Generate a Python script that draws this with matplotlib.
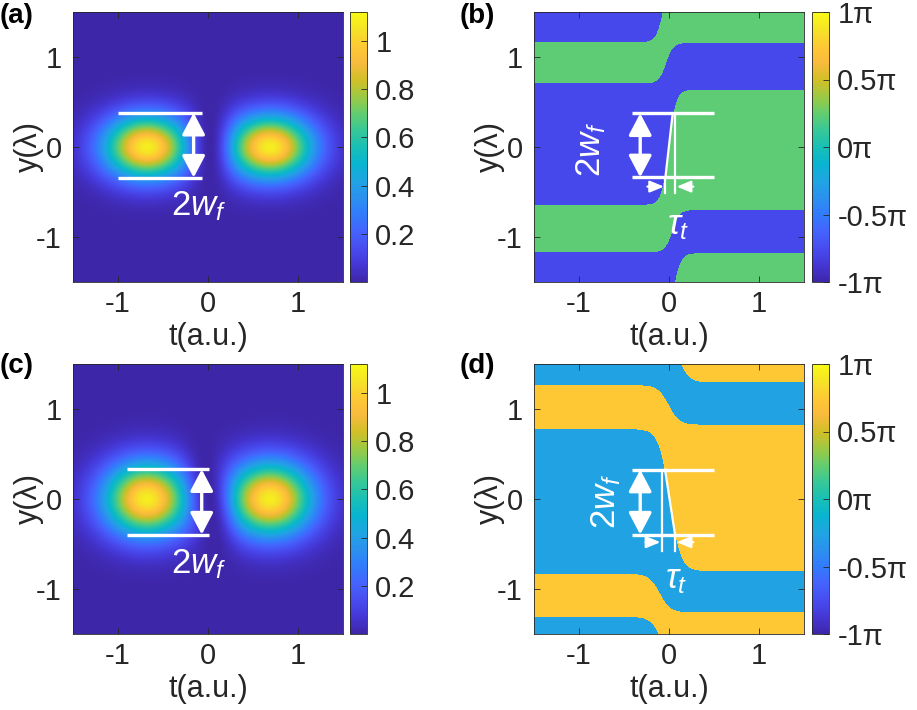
import numpy as np
import matplotlib
matplotlib.use("Agg")
import matplotlib.pyplot as plt
from matplotlib.colors import LinearSegmentedColormap
from matplotlib.patches import ArrowStyle

plt.rcParams["font.family"] = ["Liberation Sans", "DejaVu Sans"]
plt.rcParams["axes.unicode_minus"] = False
plt.rcParams["mathtext.fontset"] = "custom"
plt.rcParams["mathtext.rm"] = "Liberation Sans"
plt.rcParams["mathtext.it"] = "Liberation Sans:italic"

# MATLAB parula (every 4th entry of the 64-colour map)
parula_rgb = [
    (0.2422, 0.1504, 0.6603), (0.2706, 0.2147, 0.8364), (0.2813, 0.3006, 0.9414),
    (0.2699, 0.3892, 0.9906), (0.1963, 0.4847, 0.9892), (0.1687, 0.5703, 0.9359),
    (0.1248, 0.6459, 0.8883), (0.0297, 0.7082, 0.8163), (0.0964, 0.7500, 0.7120),
    (0.2161, 0.7843, 0.5923), (0.3909, 0.8029, 0.4354), (0.6174, 0.7876, 0.2612),
    (0.8203, 0.7498, 0.1535), (0.9728, 0.7298, 0.2394), (0.9952, 0.7893, 0.2028),
    (0.9610, 0.8890, 0.1537), (0.9769, 0.9839, 0.0805),
]
parula = LinearSegmentedColormap.from_list("parula", parula_rgb)

# ---- intensity panels (a) and (c): two lobes ----
spot_t = [-0.68, 0.69]
spot_peak = 1.08
spot_sig_t = 0.34
spot_sig_y_a = 0.25
spot_sig_y_c = 0.29
gap_tilt_a = 0.0
gap_tilt_c = -0.10
intensity_max = 1.12
intensity_ticks = [0.2, 0.4, 0.6, 0.8, 1.0]

# ---- phase panels (b) and (d): band boundaries (y) left / right of t=0 ----
b_left = [1.17, 0.71, -0.64, -1.17, -1.90]
b_right = [1.90, 1.16, 0.64, -0.70, -1.18]
b_t0 = [-0.06, -0.03, 0.00, 0.04, 0.06]
b_levels = [-0.77, 0.23]      # phase / pi, top band first
d_left = [1.90, 1.27, 0.78, -0.83, -1.31]
d_right = [1.30, 0.83, -0.80, -1.26, -1.90]
d_t0 = [0.10, 0.00, 0.01, -0.10, -0.07]
d_levels = [0.74, -0.26]
phase_ticks = [-1, -0.5, 0, 0.5, 1]
phase_labels = ["-1\u03c0", "-0.5\u03c0", "0\u03c0", "0.5\u03c0", "1\u03c0"]

# ---- annotations ----
wf_a = {"y": [0.38, -0.34], "t": [-1.0, -0.07], "arrow": -0.16, "text": (-0.10, -0.66)}
wf_c = {"y": [0.33, -0.395], "t": [-0.9, 0.01], "arrow": -0.07, "text": (-0.10, -0.72)}
wf_b = {"y": [0.374, -0.337], "t": [-0.414, 0.5], "arrow": -0.32, "text": (-0.86, -0.03)}
wf_d = {"y": [0.326, -0.395], "t": [-0.414, 0.5], "arrow": -0.32, "text": (-0.70, -0.03)}
tau_b = {"vert": 0.067, "slant": (0.041, -0.040), "tick_end": -0.515, "arr_y": -0.44,
         "arr_l": (-0.24, -0.055), "arr_r": (0.27, 0.085), "text": (0.10, -0.87)}
tau_d = {"vert": -0.081, "slant": (-0.044, 0.067), "tick_end": -0.574, "arr_y": -0.48,
         "arr_l": (-0.26, -0.095), "arr_r": (0.27, 0.085), "text": (0.08, -0.89)}

n = 540
tt = np.linspace(-1.5, 1.5, n)
T, Y = np.meshgrid(tt, tt)


def intensity(sig_y, tilt):
    img = np.zeros_like(T)
    for tc in spot_t:
        img += spot_peak * np.exp(-(T - tc) ** 2 / (2 * spot_sig_t ** 2) - Y ** 2 / (2 * sig_y ** 2))
    tg = T - 0.02 - tilt * Y
    return img * (1 - np.exp(-(tg / 0.2) ** 2))


def phase(left, right, t0, levels, w):
    idx = np.zeros(T.shape, dtype=int)
    for yl, yr, tc in zip(left, right, t0):
        yb = yl + (yr - yl) * 0.5 * (1 + np.tanh((T - tc) / w))
        idx += (Y < yb).astype(int)
    return np.where(idx % 2 == 0, levels[0], levels[1]) * np.pi


fig = plt.figure(figsize=(9.17, 7.10), dpi=100)
W, H = 917, 710
grey = "#262626"


def make_axes(x0, y0, cx):
    ax = fig.add_axes([x0 / W, 1 - (y0 + 270) / H, 270 / W, 270 / H])
    cax = fig.add_axes([cx / W, 1 - (y0 + 270) / H, 17 / W, 270 / H])
    return ax, cax


def style_axes(ax):
    ax.set_xlim(-1.5, 1.5)
    ax.set_ylim(-1.5, 1.5)
    ax.set_xticks([-1, 0, 1])
    ax.set_yticks([-1, 0, 1])
    ax.tick_params(direction="in", top=True, right=True, length=4, width=0.6,
                   colors=grey, labelsize=21)
    ax.tick_params(axis="x", pad=6)
    ax.tick_params(axis="y", pad=8)
    for s in ax.spines.values():
        s.set_color(grey)
        s.set_linewidth(0.6)
    ax.set_xlabel("t(a.u.)", fontsize=22, color=grey)
    ax.xaxis.set_label_coords(0.5, -0.15)
    ax.set_ylabel("y(\u03bb)", fontsize=22, color=grey, va="center")
    ax.yaxis.set_label_coords(-0.165, 0.5)


def style_cbar(cb):
    cb.outline.set_edgecolor(grey)
    cb.outline.set_linewidth(0.6)
    cb.ax.tick_params(direction="in", length=4, width=0.6, colors=grey, labelsize=21, pad=6)


def wf_marks(ax, d, rotate=False):
    for yv in d["y"]:
        ax.plot(d["t"], [yv, yv], color="white", lw=2.4, solid_capstyle="butt")
    big = ArrowStyle("<|-|>", head_length=0.95, head_width=0.5)
    ax.annotate("", xy=(d["arrow"], d["y"][1]), xytext=(d["arrow"], d["y"][0]),
                arrowprops=dict(arrowstyle=big, color="white", lw=2.4,
                                shrinkA=0, shrinkB=0, mutation_scale=14))
    ax.text(*d["text"], r"$2w_f$", color="white", fontsize=25, ha="center", va="center",
            rotation=90 if rotate else 0)


def tau_marks(ax, wf, d):
    top, bot = wf["y"]
    ax.plot([d["vert"], d["vert"]], [top, d["tick_end"]], color="white", lw=1.6)
    ax.plot([d["slant"][0], d["slant"][1]], [top, bot], color="white", lw=1.6)
    ax.plot([d["slant"][1], d["slant"][1]], [bot, d["tick_end"]], color="white", lw=1.6)
    small = ArrowStyle("-|>", head_length=0.85, head_width=0.35)
    for a in (d["arr_l"], d["arr_r"]):
        ax.annotate("", xy=(a[1], d["arr_y"]), xytext=(a[0], d["arr_y"]),
                    arrowprops=dict(arrowstyle=small, color="white", lw=1.6,
                                    shrinkA=0, shrinkB=0, mutation_scale=10))
    ax.text(*d["text"], r"$\tau_t$", color="white", fontsize=25, ha="center", va="center")


ext = [-1.5, 1.5, -1.5, 1.5]

# (a)
ax, cax = make_axes(73, 12, 350)
im = ax.imshow(intensity(spot_sig_y_a, gap_tilt_a), extent=ext, origin="lower",
               cmap=parula, vmin=0, vmax=intensity_max, aspect="auto", interpolation="bilinear")
style_axes(ax)
wf_marks(ax, wf_a)
cb = fig.colorbar(im, cax=cax, ticks=intensity_ticks)
cb.ax.set_yticklabels(["0.2", "0.4", "0.6", "0.8", "1"])
style_cbar(cb)

# (c)
ax, cax = make_axes(73, 364, 350)
im = ax.imshow(intensity(spot_sig_y_c, gap_tilt_c), extent=ext, origin="lower",
               cmap=parula, vmin=0, vmax=intensity_max, aspect="auto", interpolation="bilinear")
style_axes(ax)
wf_marks(ax, wf_c)
cb = fig.colorbar(im, cax=cax, ticks=intensity_ticks)
cb.ax.set_yticklabels(["0.2", "0.4", "0.6", "0.8", "1"])
style_cbar(cb)

# (b)
ax, cax = make_axes(534, 12, 812)
im = ax.imshow(phase(b_left, b_right, b_t0, b_levels, 0.08), extent=ext, origin="lower",
               cmap=parula, vmin=-np.pi, vmax=np.pi, aspect="auto", interpolation="nearest")
style_axes(ax)
wf_marks(ax, wf_b, rotate=True)
tau_marks(ax, wf_b, tau_b)
cb = fig.colorbar(im, cax=cax, ticks=[v * np.pi for v in phase_ticks])
cb.ax.set_yticklabels(phase_labels)
style_cbar(cb)

# (d)
ax, cax = make_axes(534, 364, 812)
im = ax.imshow(phase(d_left, d_right, d_t0, d_levels, 0.12), extent=ext, origin="lower",
               cmap=parula, vmin=-np.pi, vmax=np.pi, aspect="auto", interpolation="nearest")
style_axes(ax)
wf_marks(ax, wf_d, rotate=True)
tau_marks(ax, wf_d, tau_d)
cb = fig.colorbar(im, cax=cax, ticks=[v * np.pi for v in phase_ticks])
cb.ax.set_yticklabels(phase_labels)
style_cbar(cb)

for lab, x, y in [("(a)", 0, 3), ("(b)", 460, 3), ("(c)", 0, 353), ("(d)", 460, 353)]:
    fig.text(x / W, 1 - y / H, lab, fontsize=20, fontweight="bold", ha="left", va="top")

fig.savefig("out.png", dpi=100)
